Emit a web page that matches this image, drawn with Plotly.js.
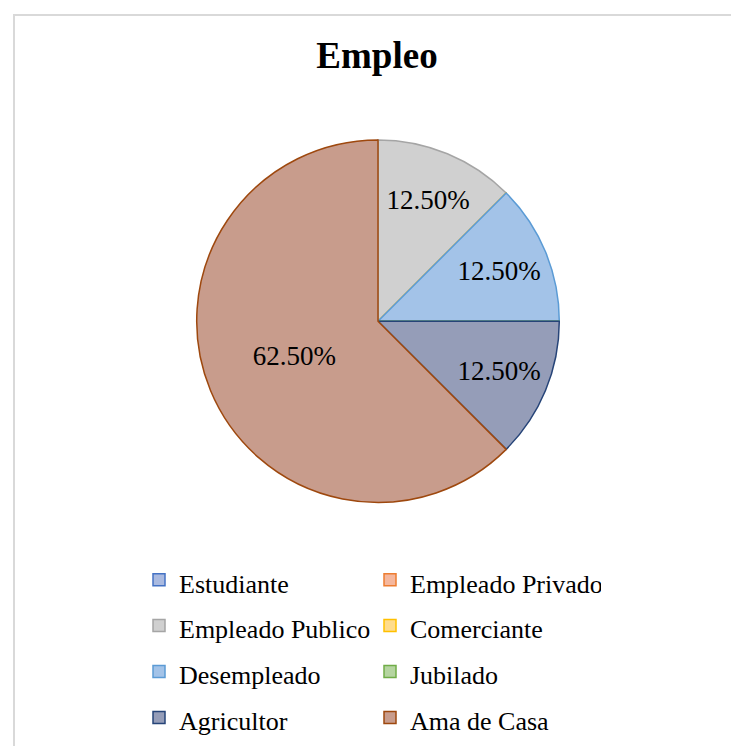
<!DOCTYPE html>
<html>
<head>
<meta charset="utf-8">
<script src="https://cdn.plot.ly/plotly-3.0.1.min.js"></script>
<style>
  html, body { margin: 0; padding: 0; background: #ffffff; }
  #wrap { position: relative; width: 731px; height: 746px; overflow: hidden; }
  #chart { position: absolute; left: 0; top: 0; width: 731px; height: 746px; }
  #frame { position: absolute; left: 13px; top: 14px; right: -5px; bottom: -5px;
           border-left: 2px solid #d9d9d9; border-top: 2px solid #d9d9d9; pointer-events: none; }
</style>
</head>
<body>
<div id="wrap">
  <div id="chart"></div>
  <div id="frame"></div>
</div>
<script>
// Data
const categories = ["Estudiante", "Empleado Privado", "Empleado Publico", "Comerciante",
                    "Desempleado", "Jubilado", "Agricultor", "Ama de Casa"];
const counts = [0, 0, 1, 0, 1, 0, 1, 5];
const fillColors = ["#AABAE0", "#F5B79D", "#D0D0D0", "#FFDC8C",
                    "#A3C3E8", "#B5D5A0", "#959DB8", "#C89C8C"];
const lineColors = ["#4472C4", "#ED7D31", "#A5A5A5", "#FFC000",
                    "#5B9BD5", "#70AD47", "#264478", "#9E480E"];

const W = 731, H = 746;
const ml = 50, mr = 50;
const pw = W - ml - mr;
const cx = 378, cy = 326, R = 184;

const legendFont = 26;
const labelsHtml = categories.map(c => '<span style="font-size:' + legendFont + 'px">' + c + '</span>');

const trace = {
  type: 'pie',
  labels: labelsHtml,
  values: counts,
  sort: false,
  direction: 'clockwise',
  rotation: 0,
  marker: { colors: fillColors, line: { color: lineColors, width: 1.5 } },
  texttemplate: counts.map(v => v > 0 ? '%{percent:.2%}' : ''),
  textposition: 'inside',
  insidetextorientation: 'horizontal',
  insidetextfont: { family: 'Liberation Serif, Times New Roman, serif', size: 27, color: '#000000' },
  hoverinfo: 'label+percent',
  domain: { x: [(cx - R - ml) / pw, (cx + R - ml) / pw], y: [1 - (cy + R) / H, 1 - (cy - R) / H] }
};

const layout = {
  width: W, height: H,
  margin: { l: ml, r: mr, t: 0, b: 0 },
  paper_bgcolor: '#ffffff',
  font: { family: 'Liberation Serif, Times New Roman, serif', color: '#000000' },
  title: { text: '<b>Empleo</b>', font: { family: 'Liberation Serif, Times New Roman, serif', size: 37, color: '#000000' },
           x: 377 / W, xref: 'container', xanchor: 'center', y: 1 - 55 / H, yref: 'container', yanchor: 'middle' },
  showlegend: true,
  legend: {
    orientation: 'h',
    entrywidth: 186, entrywidthmode: 'pixels',
    x: (139 - ml) / pw, xanchor: 'left',
    y: 1 - 560 / H, yanchor: 'top',
    font: { family: 'Liberation Serif, Times New Roman, serif', size: 33, color: '#000000' },
    bgcolor: 'rgba(0,0,0,0)', borderwidth: 0,
    traceorder: 'normal'
  }
};

Plotly.newPlot('chart', [trace], layout, { displayModeBar: false, staticPlot: true });
</script>
</body>
</html>
